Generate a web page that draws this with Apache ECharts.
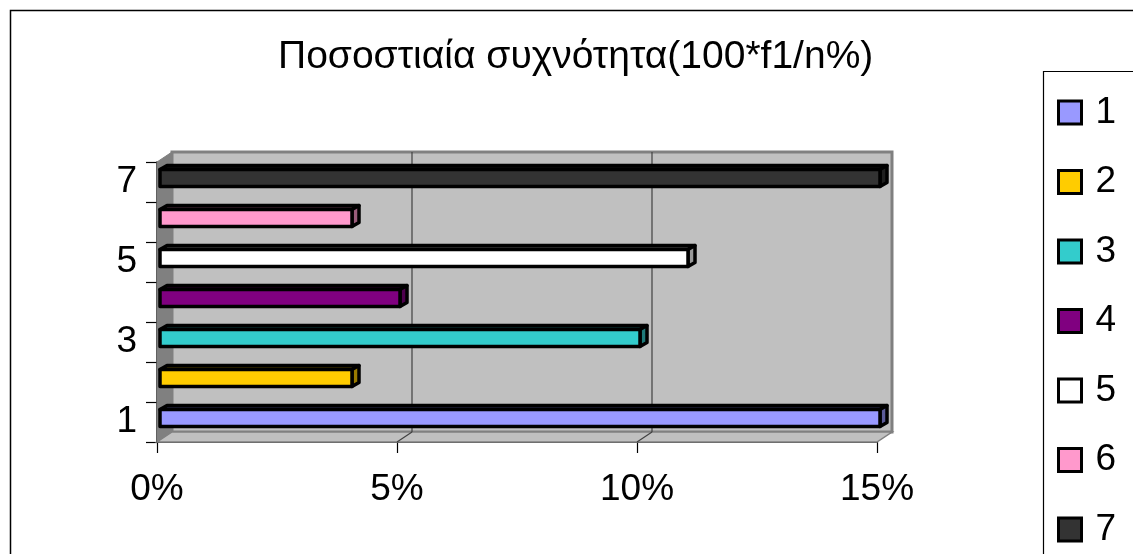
<!DOCTYPE html>
<html>
<head>
<meta charset="utf-8">
<script src="https://cdn.jsdelivr.net/npm/echarts@6/dist/echarts.min.js"></script>
<style>
  html, body { margin: 0; padding: 0; background: #fff; }
  #chart { width: 1133px; height: 554px; }
</style>
</head>
<body>
<div id="chart"></div>
<script>
// Categories (classes) and their relative frequency in percent
const categories = ['1', '2', '3', '4', '5', '6', '7'];
const percentValues = [15, 4, 10, 5, 11, 4, 15];
const barColors = ['#9999FF', '#FFCC00', '#33CCCC', '#800080', '#FFFFFF', '#FF99CC', '#333333'];
const xTicks = [0, 5, 10, 15];
const titleText = 'Ποσοστιαία συχνότητα(100*f1/n%)';

const FONT = '"Liberation Sans", Arial, sans-serif';
const DEPTH = { dx: 15, dy: -10 };       // depth of the 3D box (walls/floor)
const BAR_SHIFT = { dx: 3, dy: -4 };     // bars sit a little behind the front plane
const BAR_DEPTH = { dx: 7, dy: -4 };     // depth of each bar
const BAR_HALF = 8.5;                    // half height of the bar front face

function shade(hex, k) {
  const n = parseInt(hex.slice(1), 16);
  const r = Math.round(((n >> 16) & 255) * k);
  const g = Math.round(((n >> 8) & 255) * k);
  const b = Math.round((n & 255) * k);
  return 'rgb(' + r + ',' + g + ',' + b + ')';
}

// Walls, floor and back-wall gridlines of the 3D frame
function renderFrame(params, api) {
  const cs = params.coordSys;
  const l = cs.x, t = cs.y, r = cs.x + cs.width, b = cs.y + cs.height;
  const dx = DEPTH.dx, dy = DEPTH.dy;
  const children = [];
  // back wall
  children.push({
    type: 'rect',
    shape: { x: l + dx, y: t + dy, width: r - l, height: b - t },
    style: { fill: '#C0C0C0', stroke: '#808080', lineWidth: 3 }
  });
  // left side wall
  children.push({
    type: 'polygon',
    shape: { points: [[l, t], [l + dx, t + dy], [l + dx, b + dy], [l, b]] },
    style: { fill: '#808080', stroke: '#808080', lineWidth: 1 }
  });
  // floor
  children.push({
    type: 'polygon',
    shape: { points: [[l, b], [l + dx, b + dy], [r + dx, b + dy], [r, b]] },
    style: { fill: '#C0C0C0', stroke: '#808080', lineWidth: 1.5 }
  });
  // gridlines on back wall and floor
  xTicks.slice(1, -1).forEach(function (v) {
    const x = api.coord([v, 0])[0];
    children.push({
      type: 'line',
      shape: { x1: x + dx, y1: t + dy, x2: x + dx, y2: b + dy },
      style: { stroke: '#404040', lineWidth: 1.2 }
    });
    children.push({
      type: 'line',
      shape: { x1: x, y1: b, x2: x + dx, y2: b + dy },
      style: { stroke: '#404040', lineWidth: 1.2 }
    });
  });
  return { type: 'group', children: children };
}

// One 3D bar: front face, top face and right face
function makeBarRenderer(color) {
  return function (params, api) {
    const v = api.value(0);
    const idx = api.value(1);
    const end = api.coord([v, idx]);
    const start = api.coord([0, idx]);
    const x0 = start[0] + BAR_SHIFT.dx;
    const x1 = end[0] + BAR_SHIFT.dx;
    const yc = end[1] + BAR_SHIFT.dy;
    const yt = yc - BAR_HALF, yb = yc + BAR_HALF;
    const ddx = BAR_DEPTH.dx, ddy = BAR_DEPTH.dy;
    const lw = 3.5;
    return {
      type: 'group',
      children: [
        {
          type: 'polygon',
          shape: { points: [[x0, yt], [x1, yt], [x1 + ddx, yt + ddy], [x0 + ddx, yt + ddy]] },
          style: { fill: shade(color, 0.4), stroke: '#000', lineWidth: lw, lineJoin: 'round' }
        },
        {
          type: 'polygon',
          shape: { points: [[x1, yt], [x1 + ddx, yt + ddy], [x1 + ddx, yb + ddy], [x1, yb]] },
          style: { fill: shade(color, 0.6), stroke: '#000', lineWidth: lw, lineJoin: 'round' }
        },
        {
          type: 'rect',
          shape: { x: x0, y: yt, width: x1 - x0, height: yb - yt },
          style: { fill: color, stroke: '#000', lineWidth: lw, lineJoin: 'round' }
        }
      ]
    };
  };
}

const barSeries = categories.map(function (name, i) {
  return {
    name: name,
    type: 'custom',
    z: 5,
    renderItem: makeBarRenderer(barColors[i]),
    itemStyle: { color: barColors[i], borderColor: '#000', borderWidth: 3 },
    encode: { x: 0, y: 1 },
    data: [[percentValues[i], i]]
  };
});

const chart = echarts.init(document.getElementById('chart'), null, { renderer: 'canvas' });

chart.setOption({
  animation: false,
  backgroundColor: '#fff',
  textStyle: { fontFamily: FONT },
  title: {
    text: titleText,
    left: 278,
    top: 38,
    padding: 0,
    textStyle: { fontFamily: FONT, fontSize: 39, fontWeight: 'normal', color: '#000' }
  },
  graphic: [
    {
      // outer chart border
      type: 'rect',
      silent: true,
      z: -10,
      shape: { x: 10.5, y: 10.5, width: 1200, height: 700 },
      style: { fill: 'none', stroke: '#000', lineWidth: 1.5 }
    },
    {
      // legend frame
      type: 'rect',
      silent: true,
      z: -9,
      shape: { x: 1043.5, y: 71.5, width: 200, height: 600 },
      style: { fill: '#fff', stroke: '#000', lineWidth: 1.2 }
    }
  ],
  legend: {
    data: categories,
    orient: 'vertical',
    left: 1044,
    top: 72,
    padding: [22, 10, 0, 13],
    itemGap: 32.5,
    itemWidth: 23,
    itemHeight: 23,
    icon: 'rect',
    itemStyle: { borderColor: '#000', borderWidth: 3 },
    textStyle: { fontFamily: FONT, fontSize: 37, color: '#000', lineHeight: 37, padding: [0, 0, 0, 9] }
  },
  grid: {
    left: 157,
    right: 256,
    top: 162,
    bottom: 112,
    containLabel: false,
    outerBoundsMode: 'none'
  },
  xAxis: {
    type: 'value',
    min: 0,
    max: 15,
    interval: 5,
    axisLine: { show: true, lineStyle: { color: '#000', width: 1.5 } },
    axisTick: { show: true, length: 11, lineStyle: { color: '#000', width: 1.2 } },
    splitLine: { show: false },
    axisLabel: {
      margin: 29,
      fontFamily: FONT,
      fontSize: 37,
      color: '#000',
      formatter: '{value}%'
    }
  },
  yAxis: {
    type: 'category',
    data: categories,
    axisLine: { show: true, lineStyle: { color: '#000', width: 1.5 } },
    axisTick: { show: true, length: 11, interval: 0, lineStyle: { color: '#000', width: 1.2 } },
    splitLine: { show: false },
    axisLabel: {
      interval: 1,
      margin: 20,
      fontFamily: FONT,
      fontSize: 37,
      color: '#000',
      padding: [0, 0, 14, 0]
    }
  },
  series: [
    {
      name: 'frame',
      type: 'custom',
      z: 1,
      silent: true,
      renderItem: renderFrame,
      data: [[0, 0]]
    }
  ].concat(barSeries)
});
</script>
</body>
</html>
